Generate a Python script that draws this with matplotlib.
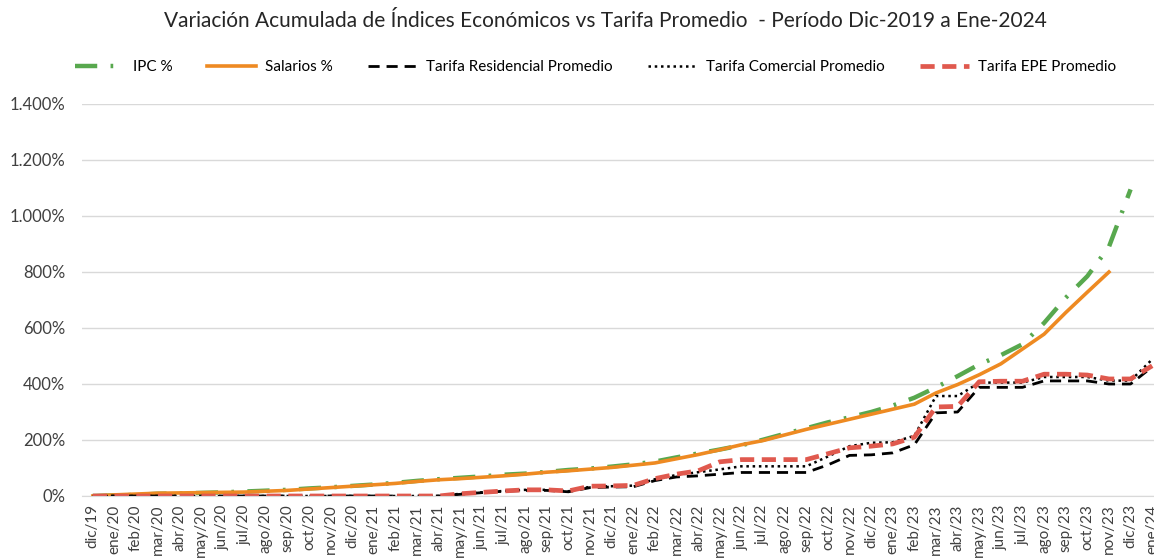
import numpy as np
import matplotlib
matplotlib.use('Agg')
import matplotlib.pyplot as plt
from matplotlib.ticker import FuncFormatter

plt.rcParams['font.family'] = ['Lato', 'DejaVu Sans']

meses = ['ene', 'feb', 'mar', 'abr', 'may', 'jun', 'jul', 'ago', 'sep', 'oct', 'nov', 'dic']
labels = ['dic/19'] + [m + '/' + a for a in ['20', '21', '22', '23'] for m in meses] + ['ene/24']

nan = np.nan
ipc = [0, 2, 4, 8, 9, 11, 13, 16, 19, 22, 27, 31, 36,
       41, 47, 54, 60, 65, 70, 76, 80, 86, 93, 98, 105,
       113, 123, 138, 152, 166, 181, 201, 222, 242, 263, 281, 300,
       323, 351, 388, 428, 470, 503, 542, 618, 708, 785, 890, 1095, nan]
salarios = [0, 4, 7, 10, 11, 12, 13, 14, 17, 20, 25, 30, 35,
            40, 45, 52, 58, 62, 67, 72, 78, 85, 90, 96, 102,
            110, 118, 133, 148, 165, 183, 198, 218, 238, 256, 274, 292,
            310, 328, 368, 398, 433, 472, 525, 578, 655, 728, 800, nan, nan]
residencial = [0, 0, 0, 0, 0, 0, 0, 0, 0, 0, 0, 0, 0,
               0, 0, 0, 0, 6, 12, 17, 20, 20, 15, 30, 32,
               33, 55, 68, 72, 78, 84, 84, 84, 84, 111, 145, 147,
               154, 183, 297, 300, 388, 388, 388, 411, 411, 411, 400, 400, 461]
comercial = [0, 0, 0, 0, 0, 0, 0, 0, 0, 0, 0, 0, 0,
             0, 0, 0, 0, 8, 13, 18, 22, 22, 17, 33, 35,
             37, 60, 75, 85, 95, 106, 106, 106, 106, 141, 178, 190,
             192, 215, 357, 357, 405, 405, 405, 425, 425, 425, 412, 412, 488]
epe = [0, 0, 0, 0, 0, 0, 0, 0, 0, 0, 0, 0, 0,
       0, 0, 0, 0, 8, 13, 18, 22, 22, 18, 35, 36,
       38, 62, 78, 90, 122, 130, 130, 130, 130, 151, 172, 178,
       186, 210, 318, 320, 408, 410, 410, 435, 435, 432, 418, 418, 465]

x = np.arange(len(labels))

fig = plt.figure(figsize=(11.54, 5.6), dpi=100)
ax = fig.add_axes([82 / 1154, 64 / 560, 1081 / 1154, 392 / 560])

ax.plot(x, ipc, color='#58A84E', lw=3.2, dashes=(5, 3, 0.6, 3), label='IPC %')
ax.plot(x, salarios, color='#EE8A22', lw=2.6, label='Salarios %')
ax.plot(x, residencial, color='black', lw=2, dashes=(4, 2.5), label='Tarifa Residencial Promedio')
ax.plot(x, comercial, color='black', lw=1.8, dashes=(1, 1.5), label='Tarifa Comercial Promedio')
ax.plot(x, epe, color='#E0594E', lw=3.4, dashes=(3, 1.6), label='Tarifa EPE Promedio')

ax.set_xlim(-0.5, len(labels) - 0.5)
ax.set_ylim(0, 1400)
ax.set_yticks(range(0, 1401, 200))
ax.yaxis.set_major_formatter(FuncFormatter(lambda v, p: f'{v:,.0f}%'.replace(',', '.')))
ax.set_xticks(x)
ax.set_xticklabels(labels, rotation=90, va='top')
ax.tick_params(axis='both', length=0, labelsize=11, colors='#404040')
ax.tick_params(axis='x', pad=6)
ax.tick_params(axis='y', pad=12, labelsize=12)
ax.grid(axis='y', color='#D9D9D9', lw=1)
ax.set_axisbelow(True)
for s in ['top', 'right', 'left']:
    ax.spines[s].set_visible(False)
ax.spines['bottom'].set_color('#D9D9D9')

fig.text(0.525, 0.962, 'Variación Acumulada de Índices Económicos vs Tarifa Promedio  - Período Dic-2019 a Ene-2024',
         ha='center', va='center', fontsize=15, color='#262626')
fig.legend(loc='center', bbox_to_anchor=(0.516, 0.88), ncol=5, frameon=False, fontsize=11,
           handlelength=3.2, columnspacing=2.3, handletextpad=0.6)

fig.savefig('out.png', dpi=100)
